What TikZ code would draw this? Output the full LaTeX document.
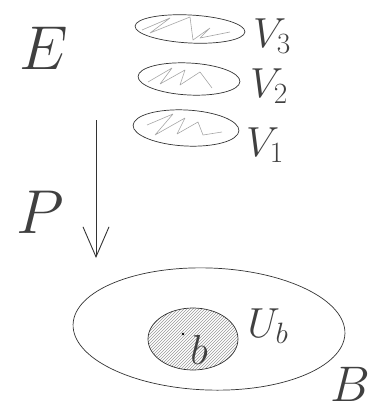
\RequirePackage{fix-cm}
\documentclass[tikz,border=0pt]{standalone}
\usetikzlibrary{shapes.geometric,patterns,arrows.meta}
\begin{document}
\begin{tikzpicture}[x=1pt,y=-1pt,
  ink/.style={draw=black!80,line width=0.7pt},
  sheet/.style={ellipse,ink,inner sep=0pt},
  squig/.style={draw=black!35,line width=0.6pt,line join=round},
  lbl/.style={inner sep=0pt,text=black!75},
  big/.style={lbl,font=\fontsize{62}{62}\selectfont},
  mid/.style={lbl,font=\fontsize{42}{42}\selectfont}]
\useasboundingbox (0,0) rectangle (382,412);
% letters
\node[big] (E) at (44,48) {$E$};
\node[big] (P) at (40,212) {$P$};
\node[lbl,font=\fontsize{50}{50}\selectfont] (B) at (350,384) {$B$};
% sheets
\node[sheet,minimum width=110pt,minimum height=28pt,rotate=-3] (V3) at (190,29) {};
\node[sheet,minimum width=102pt,minimum height=32pt,rotate=-3] (V2) at (189,79) {};
\node[sheet,minimum width=106pt,minimum height=36pt,rotate=-3] (V1) at (186,128) {};
\path[squig] (142,30) -- (170,18) -- (150,33) -- (190,17) -- (193,40) -- (210,28) -- (200,38) -- (230,32);
\path[squig] (148,82) -- (172,68) -- (160,84) -- (185,70) -- (180,85) -- (200,72) -- (212,88);
\path[squig] (147,125) -- (173,114) -- (155,135) -- (185,118) -- (177,134) -- (198,122) -- (203,135) -- (222,132);
\node[mid] (L3) at (272,36) {$V_{3}$};
\node[mid] (L2) at (269,86) {$V_{2}$};
\node[mid] (L1) at (265,145) {$V_{1}$};
% projection arrow
\coordinate (a0) at (96,120);
\coordinate (a1) at (96,258);
\draw[ink,line width=0.9pt,-{Straight Barb[length=30pt,width=26pt,line width=0.9pt]}] (a0) -- (a1);
% base
\node[sheet,minimum width=272pt,minimum height=122pt,rotate=-2] (base) at (209,329) {};
\node[sheet,minimum width=90pt,minimum height=62pt,pattern=north east lines,pattern color=black!40] (U) at (193,339) {};
\fill[black] (183,334) circle (1.3pt) coordinate (b);
\node[mid] (bl) at (199,350) {$b$};
\node[mid] (Ul) at (268,326) {$U_{b}$};
\end{tikzpicture}
\end{document}
